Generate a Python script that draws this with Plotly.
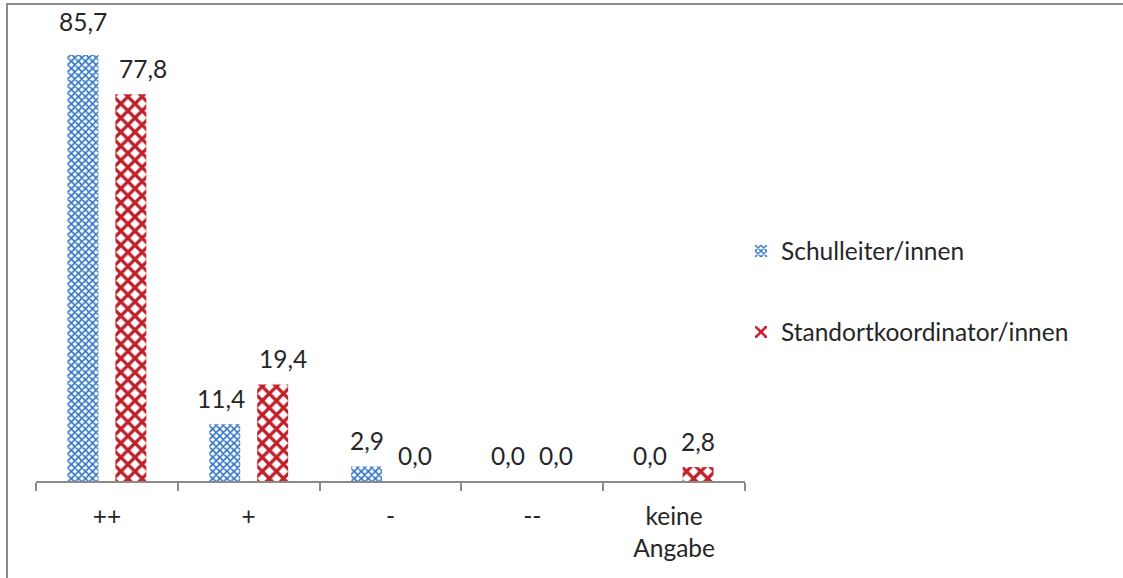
import plotly.graph_objects as go

# Survey answers per rating category (percent)
categories = ["++", "+", "-", "--", "keine<br>Angabe"]
series_names = ["Schulleiter/innen", "Standortkoordinator/innen"]
schulleiter = [85.7, 11.4, 2.9, 0.0, 0.0]
standortkoordinator = [77.8, 19.4, 0.0, 0.0, 2.8]

# Figure geometry (pixels)
W, H = 1123, 578
M_L, M_R, M_T, M_B = 36, 378, 33, 97
Y_MAX = 90.1
plot_w = W - M_L - M_R
plot_h = H - M_T - M_B

BLUE = "#2e74c6"
RED = "#c0202a"
TXT = "#262626"
GRAY = "#8a8a8a"
FONT = "Lato"
FS = 24.5

fig = go.Figure()
fig.add_trace(go.Bar(
    x=categories, y=schulleiter, name=series_names[0],
    marker=dict(color="white", line=dict(width=0),
                pattern=dict(shape="x", size=5, solidity=0.55,
                             fgcolor=BLUE, bgcolor="white", fillmode="replace")),
    legend="legend",
))
fig.add_trace(go.Bar(
    x=categories, y=standortkoordinator, name=series_names[1],
    marker=dict(color="white", line=dict(width=0),
                pattern=dict(shape="x", size=10, solidity=0.55,
                             fgcolor=RED, bgcolor="white", fillmode="replace")),
    legend="legend2",
))

# Value labels above each bar (German decimal comma)
bar_offset = 24
nudges = {(0, 0): (0, 7), (1, 0): (12, 0), (0, 1): (-4, 0), (1, 1): (10, 0)}
for si, vals in enumerate([schulleiter, standortkoordinator]):
    for ci, (cat, v) in enumerate(zip(categories, vals)):
        dx, dy = nudges.get((si, ci), (0, 0))
        fig.add_annotation(
            x=cat, y=v, xref="x", yref="y",
            text=f"{v:.1f}".replace(".", ","),
            showarrow=False, xanchor="center", yanchor="middle",
            xshift=(-bar_offset if si == 0 else bar_offset) + dx,
            yshift=26 + dy,
            font=dict(family=FONT, size=FS, color=TXT),
        )

# Outer frame of the chart area
def px_x(px):
    return (px - M_L) / plot_w

def px_y(py):
    return (H - M_B - py) / plot_h

fig.add_shape(type="rect", xref="paper", yref="paper",
              x0=px_x(7), x1=px_x(W + 20), y0=px_y(H + 20), y1=px_y(4),
              line=dict(color=GRAY, width=2), fillcolor="rgba(0,0,0,0)", layer="below")

fig.update_layout(
    width=W, height=H,
    margin=dict(l=M_L, r=M_R, t=M_T, b=M_B),
    paper_bgcolor="white", plot_bgcolor="white",
    barmode="group", bargap=0.324, bargroupgap=0.354,
    font=dict(family=FONT, size=FS, color=TXT),
    xaxis=dict(
        type="category", showline=True, linecolor=GRAY, linewidth=2,
        ticks="outside", tickson="boundaries", ticklen=8, tickwidth=2, tickcolor=GRAY,
        showgrid=False, zeroline=False, ticklabelstandoff=13,
        tickfont=dict(family=FONT, size=FS, color=TXT),
    ),
    yaxis=dict(range=[0, Y_MAX], visible=False, showgrid=False, zeroline=False),
    legend=dict(x=px_x(741), y=px_y(251), xanchor="left", yanchor="middle",
                font=dict(family=FONT, size=FS, color=TXT), bgcolor="rgba(0,0,0,0)"),
    legend2=dict(x=px_x(741), y=px_y(332), xanchor="left", yanchor="middle",
                 font=dict(family=FONT, size=FS, color=TXT), bgcolor="rgba(0,0,0,0)"),
    showlegend=True,
)

fig.write_html("out.html")
